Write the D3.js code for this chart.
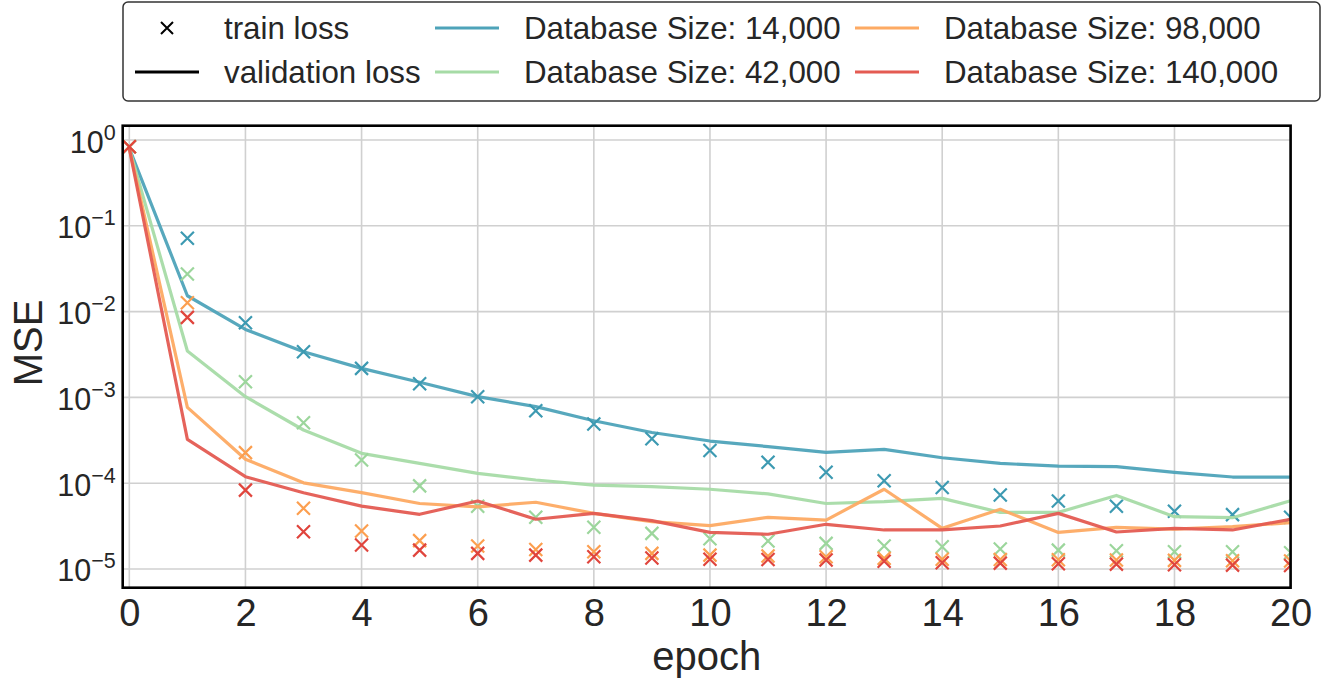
<!DOCTYPE html>
<html>
<head>
<meta charset="utf-8">
<script src="https://cdn.jsdelivr.net/npm/d3@7/dist/d3.min.js"></script>
<style>
  html, body { margin: 0; padding: 0; background: #fff; }
  svg { display: block; font-family: "Liberation Sans", Arial, sans-serif; }
</style>
</head>
<body>
<svg id="chart" width="1333" height="683"></svg>
<script>
// Epochs and per-size losses (MSE)
const epochs = d3.range(0, 21);
const sizes = ["14,000", "42,000", "98,000", "140,000"];
const colors = ["#4ea3b9", "#a6dba6", "#fdaa63", "#e45b52"];
const markerColors = ["#3d9ab2", "#9cd69c", "#fc9f50", "#e0453d"];

const val14k = [0.80, 0.0153, 0.0062, 0.0034, 0.00218, 0.0015, 0.00102, 7.8e-4, 5.35e-4, 3.9e-4, 3.1e-4, 2.67e-4, 2.29e-4, 2.48e-4, 1.98e-4, 1.70e-4, 1.58e-4, 1.56e-4, 1.34e-4, 1.18e-4, 1.18e-4];
const train14k = [0.835, 0.0715, 0.0074, 0.0034, 0.00218, 0.00144, 0.00102, 7.0e-4, 4.9e-4, 3.3e-4, 2.4e-4, 1.75e-4, 1.34e-4, 1.07e-4, 8.9e-5, 7.3e-5, 6.2e-5, 5.4e-5, 4.7e-5, 4.3e-5, 4.0e-5];
const val42k = [0.80, 0.00347, 0.00102, 4.17e-4, 2.23e-4, 1.70e-4, 1.30e-4, 1.09e-4, 9.5e-5, 9.1e-5, 8.5e-5, 7.5e-5, 5.8e-5, 6.1e-5, 6.65e-5, 4.57e-5, 4.57e-5, 7.2e-5, 4.07e-5, 3.96e-5, 6.25e-5];
const train42k = [0.835, 0.0274, 0.00152, 5.07e-4, 1.86e-4, 9.3e-5, 5.4e-5, 4.0e-5, 3.06e-5, 2.6e-5, 2.25e-5, 2.12e-5, 1.99e-5, 1.85e-5, 1.82e-5, 1.71e-5, 1.66e-5, 1.63e-5, 1.59e-5, 1.59e-5, 1.55e-5];
const val98k = [0.80, 7.66e-4, 1.90e-4, 1.01e-4, 7.75e-5, 5.8e-5, 5.3e-5, 6.0e-5, 4.45e-5, 3.56e-5, 3.2e-5, 4.0e-5, 3.72e-5, 8.5e-5, 2.98e-5, 4.96e-5, 2.67e-5, 3.06e-5, 2.92e-5, 3.11e-5, 3.47e-5];
const train98k = [0.835, 0.0127, 2.27e-4, 5.1e-5, 2.77e-5, 2.14e-5, 1.85e-5, 1.69e-5, 1.59e-5, 1.52e-5, 1.45e-5, 1.42e-5, 1.39e-5, 1.33e-5, 1.30e-5, 1.29e-5, 1.28e-5, 1.27e-5, 1.26e-5, 1.25e-5, 1.24e-5];
const val140k = [0.80, 3.24e-4, 1.19e-4, 7.75e-5, 5.4e-5, 4.34e-5, 6.2e-5, 3.8e-5, 4.45e-5, 3.66e-5, 2.67e-5, 2.54e-5, 3.32e-5, 2.85e-5, 2.85e-5, 3.17e-5, 4.45e-5, 2.7e-5, 2.98e-5, 2.85e-5, 3.8e-5];
const train140k = [0.835, 0.00857, 8.3e-5, 2.72e-5, 1.9e-5, 1.66e-5, 1.52e-5, 1.45e-5, 1.39e-5, 1.34e-5, 1.30e-5, 1.29e-5, 1.27e-5, 1.23e-5, 1.18e-5, 1.17e-5, 1.15e-5, 1.14e-5, 1.12e-5, 1.11e-5, 1.10e-5];

const valSeries = [val14k, val42k, val98k, val140k];
const trainSeries = [train14k, train42k, train98k, train140k];

const xTicks = d3.range(0, 21, 2);
const yTickExps = [0, -1, -2, -3, -4, -5];

const svg = d3.select("#chart");
const textColor = "#262626";

// plot frame
const plotLeft = 122.7, plotRight = 1290.6, plotTop = 125.7, plotBottom = 587.7;

const x = d3.scaleLinear().domain([-0.114, 20]).range([plotLeft, plotRight]);
const y = d3.scaleLog().domain([Math.pow(10, -5.218), Math.pow(10, 0.1667)]).range([plotBottom, plotTop]);

svg.append("defs").append("clipPath").attr("id", "plotclip")
  .append("rect").attr("x", plotLeft).attr("y", plotTop)
  .attr("width", plotRight - plotLeft).attr("height", plotBottom - plotTop);

// grid
const grid = svg.append("g");
grid.selectAll("line.vx").data(xTicks).join("line")
  .attr("x1", d => x(d)).attr("x2", d => x(d))
  .attr("y1", plotTop).attr("y2", plotBottom)
  .attr("stroke", "#d0d0d0").attr("stroke-width", 1.6);
grid.selectAll("line.hy").data(yTickExps).join("line")
  .attr("x1", plotLeft).attr("x2", plotRight)
  .attr("y1", d => y(Math.pow(10, d))).attr("y2", d => y(Math.pow(10, d)))
  .attr("stroke", "#d0d0d0").attr("stroke-width", 1.6);

// series: validation lines with train-loss crosses
const plot = svg.append("g").attr("clip-path", "url(#plotclip)");
const line = d3.line().x((d, i) => x(epochs[i])).y(d => y(d));
const cross = 6.5;

valSeries.forEach((vals, k) => {
  plot.append("path")
    .datum(vals)
    .attr("d", line)
    .attr("fill", "none")
    .attr("stroke", colors[k])
    .attr("stroke-width", 3.2)
    .attr("stroke-linejoin", "round")
    .attr("stroke-opacity", 0.95);
  plot.append("g").selectAll("path")
    .data(trainSeries[k])
    .join("path")
    .attr("d", (d, i) => {
      const cx = x(epochs[i]), cy = y(d);
      return `M${cx - cross},${cy - cross}L${cx + cross},${cy + cross}M${cx - cross},${cy + cross}L${cx + cross},${cy - cross}`;
    })
    .attr("stroke", markerColors[k])
    .attr("stroke-width", 2.2)
    .attr("fill", "none");
});

// frame
svg.append("rect")
  .attr("x", plotLeft).attr("y", plotTop)
  .attr("width", plotRight - plotLeft).attr("height", plotBottom - plotTop)
  .attr("fill", "none").attr("stroke", "#000").attr("stroke-width", 2.6);

// x axis
const xAxis = d3.axisBottom(x).tickValues(xTicks).tickSize(0).tickPadding(11).tickFormat(d3.format("d"));
const gx = svg.append("g").attr("transform", `translate(0,${plotBottom})`).call(xAxis);
gx.select(".domain").remove();
gx.selectAll("text").attr("font-size", 38).attr("fill", textColor)
  .attr("font-family", "'Liberation Sans', Arial, sans-serif");

// y axis with power-of-ten labels
const yAxis = d3.axisLeft(y).tickValues(yTickExps.map(e => Math.pow(10, e))).tickSize(0).tickFormat("");
const gy = svg.append("g").attr("transform", `translate(${plotLeft},0)`).call(yAxis);
gy.select(".domain").remove();
gy.selectAll(".tick").each(function (d) {
  const e = Math.round(Math.log10(d));
  const t = d3.select(this).append("text")
    .attr("x", -7).attr("y", 12)
    .attr("text-anchor", "end")
    .attr("fill", textColor)
    .attr("font-size", 30.5)
    .attr("font-family", "'Liberation Sans', Arial, sans-serif");
  t.append("tspan").text("10");
  t.append("tspan").attr("dy", -13).attr("font-size", 21.5).text(e === 0 ? "0" : "\u2212" + Math.abs(e));
});

// axis titles
svg.append("text").attr("x", (plotLeft + plotRight) / 2).attr("y", 670)
  .attr("text-anchor", "middle").attr("font-size", 40).attr("fill", textColor).text("epoch");
svg.append("text").attr("transform", "translate(42,343) rotate(-90)")
  .attr("text-anchor", "middle").attr("font-size", 40).attr("fill", textColor).text("MSE");

// legend
const lg = svg.append("g");
lg.append("rect").attr("x", 123).attr("y", 2).attr("width", 1197).attr("height", 99)
  .attr("rx", 5).attr("fill", "#fff").attr("stroke", "#333").attr("stroke-width", 1.5);

const legendFont = 31.3;
const rowY = [28, 72];
const mx = 167, my = rowY[0];
lg.append("path")
  .attr("d", `M${mx - 6},${my - 6}L${mx + 6},${my + 6}M${mx - 6},${my + 6}L${mx + 6},${my - 6}`)
  .attr("stroke", "#000").attr("stroke-width", 2);
lg.append("text").attr("x", 224).attr("y", rowY[0] + 11).attr("font-size", legendFont).attr("fill", textColor).text("train loss");
lg.append("line").attr("x1", 135).attr("x2", 199).attr("y1", rowY[1]).attr("y2", rowY[1])
  .attr("stroke", "#000").attr("stroke-width", 3);
lg.append("text").attr("x", 224).attr("y", rowY[1] + 11).attr("font-size", legendFont).attr("fill", textColor).text("validation loss");

const legendCols = [435, 855];
sizes.forEach((s, k) => {
  const col = legendCols[Math.floor(k / 2)];
  const ry = rowY[k % 2];
  lg.append("line").attr("x1", col).attr("x2", col + 64).attr("y1", ry).attr("y2", ry)
    .attr("stroke", colors[k]).attr("stroke-width", 3.2);
  lg.append("text").attr("x", col + 89).attr("y", ry + 11).attr("font-size", legendFont)
    .attr("fill", textColor).text("Database Size: " + s);
});
</script>
</body>
</html>
